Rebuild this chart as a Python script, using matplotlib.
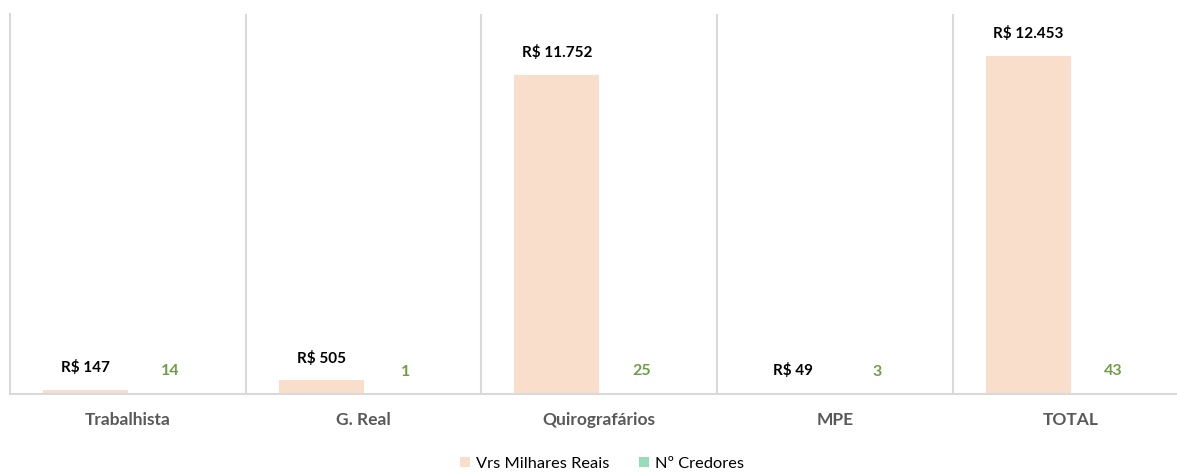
import numpy as np
import matplotlib.pyplot as plt

categories = ["Trabalhista", "G. Real", "Quirografários", "MPE", "TOTAL"]
valores = [147, 505, 11752, 49, 12453]
valor_labels = ["R$ 147", "R$ 505", "R$ 11.752", "R$ 49", "R$ 12.453"]
credores = [14, 1, 25, 3, 43]

plt.rcParams['font.family'] = ['Lato', 'DejaVu Sans']

W, H = 1177, 472
fig = plt.figure(figsize=(W / 100, H / 100), dpi=100)
ax = fig.add_axes([10 / W, (H - 394) / H, 1178.5 / W, 380 / H])

x = np.arange(len(categories))
bw = 0.36
b1 = ax.bar(x - bw / 2, valores, bw, color="#F9DECC", label="Vrs Milhares Reais")
b2 = ax.bar(x + bw / 2, credores, bw, color="#98DDB9", label="Nº Credores")

for xi, v, lab in zip(x, valores, valor_labels):
    ax.annotate(lab, (xi - bw / 2, v), xytext=(0, 16), textcoords="offset points",
                ha="center", va="center", fontsize=11, fontweight="bold", color="black")
for xi, c in zip(x, credores):
    ax.annotate(str(c), (xi + bw / 2, c), xytext=(0, 16), textcoords="offset points",
                ha="center", va="center", fontsize=11.5, fontweight="bold", color="#6E9E48")

for b in np.arange(0.5, len(categories) - 0.5, 1):
    ax.axvline(b, color="#D9D9D9", lw=1.5, zorder=0)

ax.set_xlim(-0.5, len(categories) - 0.5)
ax.set_ylim(0, 14000)
ax.set_yticks([])
ax.set_xticks(x)
ax.set_xticklabels(categories, fontsize=12.5, fontweight="bold", color="#595959")
ax.tick_params(axis="x", length=0, pad=13)
for s in ["top", "right"]:
    ax.spines[s].set_visible(False)
ax.spines["left"].set_color("#D9D9D9")
ax.spines["left"].set_linewidth(1.5)
ax.spines["bottom"].set_color("#D9D9D9")
ax.spines["bottom"].set_linewidth(1.5)

fig.legend(loc="center", bbox_to_anchor=(602 / W, (H - 464) / H), ncol=2, frameon=False,
           fontsize=11.8, handlelength=0.6, handleheight=0.6, columnspacing=1.8, handletextpad=0.4)

fig.savefig("out.png", dpi=100)
